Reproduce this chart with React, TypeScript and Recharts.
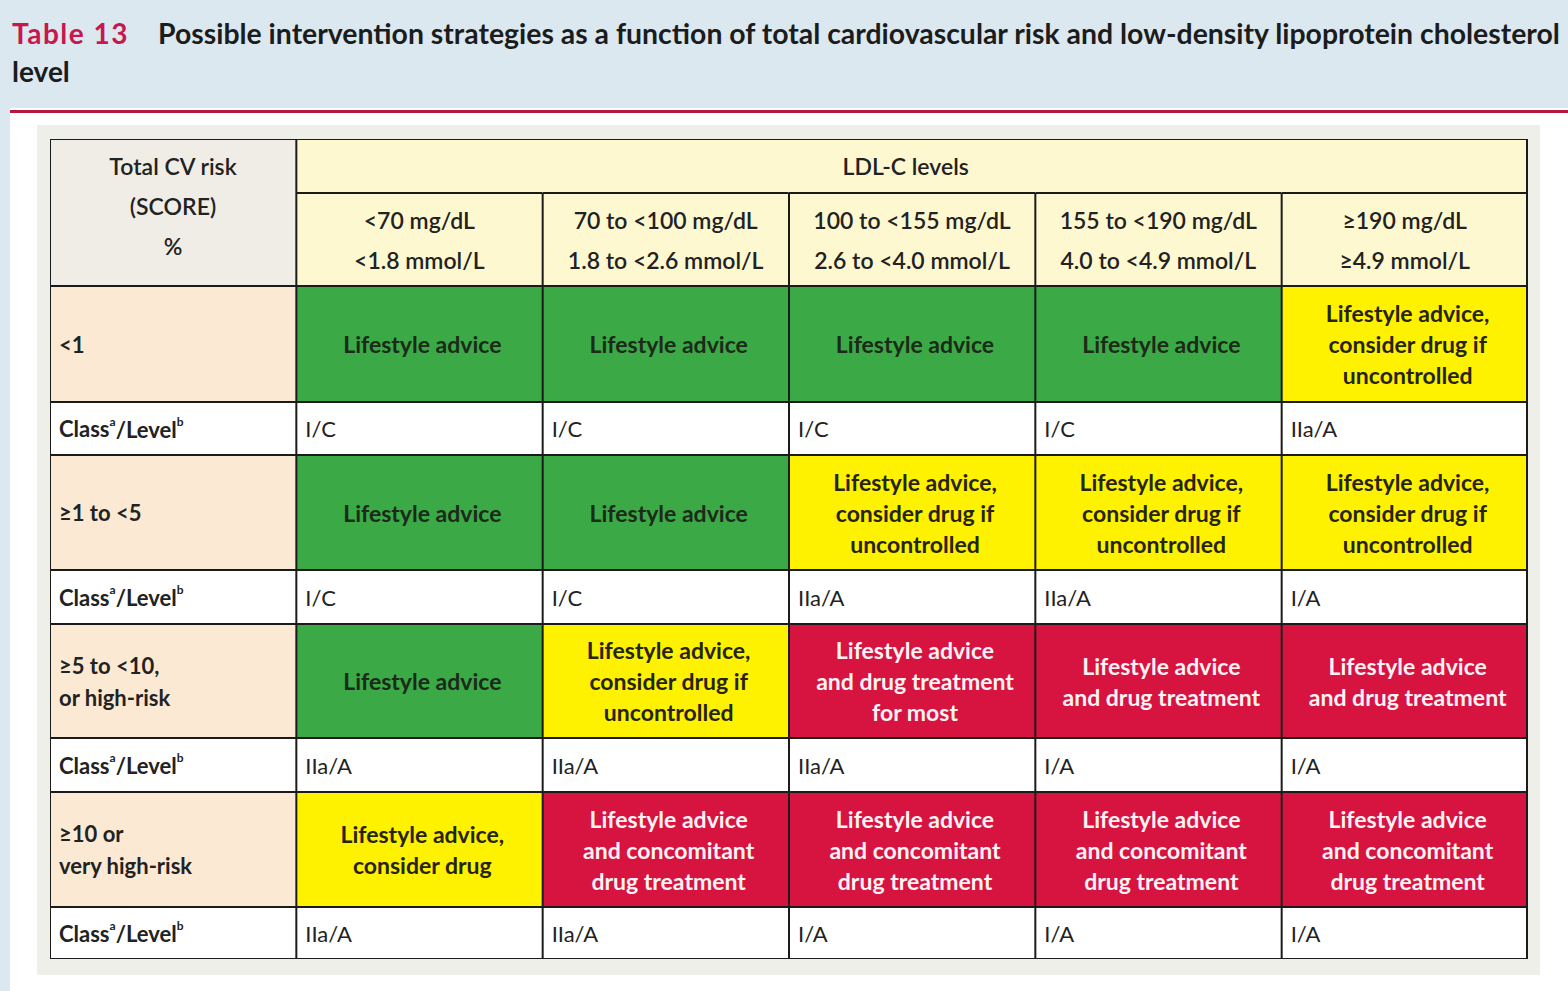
import { BarChart, Bar, XAxis, YAxis } from 'recharts';

const COLUMNS = ['risk', 'c1', 'c2', 'c3', 'c4', 'c5'];
const LDL_MGDL = ['<70 mg/dL', '70 to <100 mg/dL', '100 to <155 mg/dL', '155 to <190 mg/dL', '≥190 mg/dL'];
const LDL_MMOL = ['<1.8 mmol/L', '1.8 to <2.6 mmol/L', '2.6 to <4.0 mmol/L', '4.0 to <4.9 mmol/L', '≥4.9 mmol/L'];
const RISK_LABELS = [['<1'], ['≥1 to <5'], ['≥5 to <10,', 'or high-risk'], ['≥10 or', 'very high-risk']];

// G = lifestyle only, Y = consider drug, R = drug treatment
const ADVICE_LEVEL = [
  ['G', 'G', 'G', 'G', 'Y'],
  ['G', 'G', 'Y', 'Y', 'Y'],
  ['G', 'Y', 'R', 'R', 'R'],
  ['Y', 'R', 'R', 'R', 'R'],
];
const ADVICE_TEXT = [
  ['Lifestyle advice', 'Lifestyle advice', 'Lifestyle advice', 'Lifestyle advice', 'Lifestyle advice,|consider drug if|uncontrolled'],
  ['Lifestyle advice', 'Lifestyle advice', 'Lifestyle advice,|consider drug if|uncontrolled', 'Lifestyle advice,|consider drug if|uncontrolled', 'Lifestyle advice,|consider drug if|uncontrolled'],
  ['Lifestyle advice', 'Lifestyle advice,|consider drug if|uncontrolled', 'Lifestyle advice|and drug treatment|for most', 'Lifestyle advice|and drug treatment', 'Lifestyle advice|and drug treatment'],
  ['Lifestyle advice,|consider drug', 'Lifestyle advice|and concomitant|drug treatment', 'Lifestyle advice|and concomitant|drug treatment', 'Lifestyle advice|and concomitant|drug treatment', 'Lifestyle advice|and concomitant|drug treatment'],
];
const CLASS_LEVEL = [
  ['I/C', 'I/C', 'I/C', 'I/C', 'IIa/A'],
  ['I/C', 'I/C', 'IIa/A', 'IIa/A', 'I/A'],
  ['IIa/A', 'IIa/A', 'IIa/A', 'I/A', 'I/A'],
  ['IIa/A', 'IIa/A', 'I/A', 'I/A', 'I/A'],
];
// header, header, then risk row / class row pairs
const ROW_HEIGHTS = [54, 93, 116, 53, 115, 54, 114, 54, 115, 52];

const FILL: Record<string, string> = { G: '#3ba946', Y: '#fff200', R: '#d7133f' };
const INK: Record<string, string> = { G: '#1c2a1a', Y: '#26240c', R: '#fff2f5' };
const FONT = 'Lato, "Open Sans", sans-serif';
const LINE = '#1b1b1b';
const TABLE_W = 1478;
const TABLE_H = 820;

const tableData = COLUMNS.map((col) => {
  const o: Record<string, string | number> = { col };
  ROW_HEIGHTS.forEach((h, i) => { o[`r${i}`] = h; });
  return o;
});

function lines(list: string[], cx: number, cy: number, gap: number, anchor: 'middle' | 'start', style: any) {
  const off = ((list.length - 1) * gap) / 2;
  return list.map((t, i) => (
    <text key={i} x={cx} y={cy - off + i * gap} textAnchor={anchor} dominantBaseline="central" fontFamily={FONT} {...style}>
      {t}
    </text>
  ));
}

function renderCell(row: number, p: any) {
  const col: number = p.index;
  const x: number = p.x;
  const w: number = p.width;
  const top: number = p.height < 0 ? p.y + p.height : p.y;
  const h: number = Math.abs(p.height);
  const cx = x + w / 2;
  const cy = top + h / 2;
  const isHeader = row < 2;
  const isRisk = row >= 2 && row % 2 === 0;
  const r = Math.floor((row - 2) / 2);
  const last = col === COLUMNS.length - 1;
  const head = { fontSize: 23, fontWeight: 600, fill: '#222' };

  // the "LDL-C levels" header spans the five level columns: drawn once from the first of them
  if (row === 0 && col > 0) {
    if (col > 1) return <g />;
    const right = TABLE_W - 1;
    return (
      <g>
        <rect x={x} y={top} width={right - x} height={h + 0.5} fill="#fef8d1" />
        <line x1={x} x2={right} y1={top} y2={top} stroke={LINE} strokeWidth={2} />
        <line x1={x} x2={x} y1={top} y2={top + h} stroke={LINE} strokeWidth={2} />
        <line x1={right} x2={right} y1={top} y2={top + h} stroke={LINE} strokeWidth={2} />
        {lines(['LDL-C levels'], (x + right) / 2 - 6, cy, 0, 'middle', head)}
      </g>
    );
  }

  let fill = '#ffffff';
  if (isHeader) fill = col === 0 ? '#efede5' : '#fef8d1';
  else if (isRisk) fill = col === 0 ? '#fce9d4' : FILL[ADVICE_LEVEL[r][col - 1]];

  const content: any[] = [];
  if (isHeader) {
    if (row === 1 && col === 0) content.push(...lines(['Total CV risk', '(SCORE)', '%'], cx, cy - 34, 40, 'middle', head));
    if (row === 1 && col > 0) content.push(...lines([LDL_MGDL[col - 1], LDL_MMOL[col - 1]], cx, cy, 40, 'middle', head));
  } else if (isRisk && col === 0) {
    content.push(...lines(RISK_LABELS[r], x + 9, cy, 32, 'start', { fontSize: 22, fontWeight: 700, fill: '#222' }));
  } else if (isRisk) {
    const lvl = ADVICE_LEVEL[r][col - 1];
    content.push(...lines(ADVICE_TEXT[r][col - 1].split('|'), cx + 3, cy, 31, 'middle', { fontSize: 23, fontWeight: 700, fill: INK[lvl] }));
  } else if (col === 0) {
    content.push(
      <text key="cl" x={x + 9} y={cy} dominantBaseline="central" fontFamily={FONT} fontSize={22} fontWeight={700} fill="#222">
        Class<tspan dy={-8} fontSize={12}>a</tspan>
        <tspan dy={8} fontSize={22}>/Level</tspan>
        <tspan dy={-8} fontSize={12}>b</tspan>
      </text>,
    );
  } else {
    content.push(...lines([CLASS_LEVEL[r][col - 1]], x + 9, cy, 0, 'start', { fontSize: 22, fontWeight: 400, fill: '#222' }));
  }

  const right = last ? TABLE_W - 1 : x + w;
  return (
    <g>
      <rect x={x} y={top} width={last ? right - x : w + 1} height={h + 0.5} fill={fill} />
      {!(row === 1 && col === 0) && <line x1={x} x2={right} y1={top} y2={top} stroke={LINE} strokeWidth={2} />}
      <line x1={x} x2={x} y1={top} y2={top + h} stroke={LINE} strokeWidth={2} />
      {last && <line x1={right} x2={right} y1={top} y2={top + h} stroke={LINE} strokeWidth={2} />}
      {row === ROW_HEIGHTS.length - 1 && <line x1={x} x2={right} y1={top + h} y2={top + h} stroke={LINE} strokeWidth={2} />}
      {content}
    </g>
  );
}

export default function App() {
  return (
    <div style={{ position: 'absolute', left: 0, top: 0, width: 1568, height: 991, background: '#dbe8f0', overflow: 'hidden', fontFamily: FONT }}>
      <div style={{ position: 'absolute', left: 12, top: 16, whiteSpace: 'nowrap', fontSize: 28.4, fontWeight: 700, color: '#1c1c1c' }}>
        <span style={{ display: 'inline-block', width: 146, fontSize: 28, color: '#c8174e', letterSpacing: 1.5 }}>Table 13</span>
        Possible intervention strategies as a function of total cardiovascular risk and low-density lipoprotein cholesterol
      </div>
      <div style={{ position: 'absolute', left: 12, top: 54, fontSize: 28, fontWeight: 700, color: '#1c1c1c' }}>level</div>
      <div style={{ position: 'absolute', left: 10, top: 108, width: 1558, height: 883, background: '#ffffff' }} />
      <div style={{ position: 'absolute', left: 10, top: 110, width: 1558, height: 3, background: '#b5173d' }} />
      <div style={{ position: 'absolute', left: 37, top: 125, width: 1503, height: 850, background: '#efefe9' }} />
      <div style={{ position: 'absolute', left: 50, top: 139 }}>
        <BarChart width={TABLE_W} height={TABLE_H} data={tableData} margin={{ top: 0, right: 0, bottom: 0, left: 0 }} barCategoryGap={0} barGap={0}>
          <XAxis dataKey="col" hide />
          <YAxis type="number" domain={[0, TABLE_H]} reversed hide />
          {ROW_HEIGHTS.map((_, i) => (
            <Bar key={i} dataKey={`r${i}`} stackId="t" isAnimationActive={false} shape={(p: any) => renderCell(i, p)} />
          ))}
        </BarChart>
      </div>
    </div>
  );
}
